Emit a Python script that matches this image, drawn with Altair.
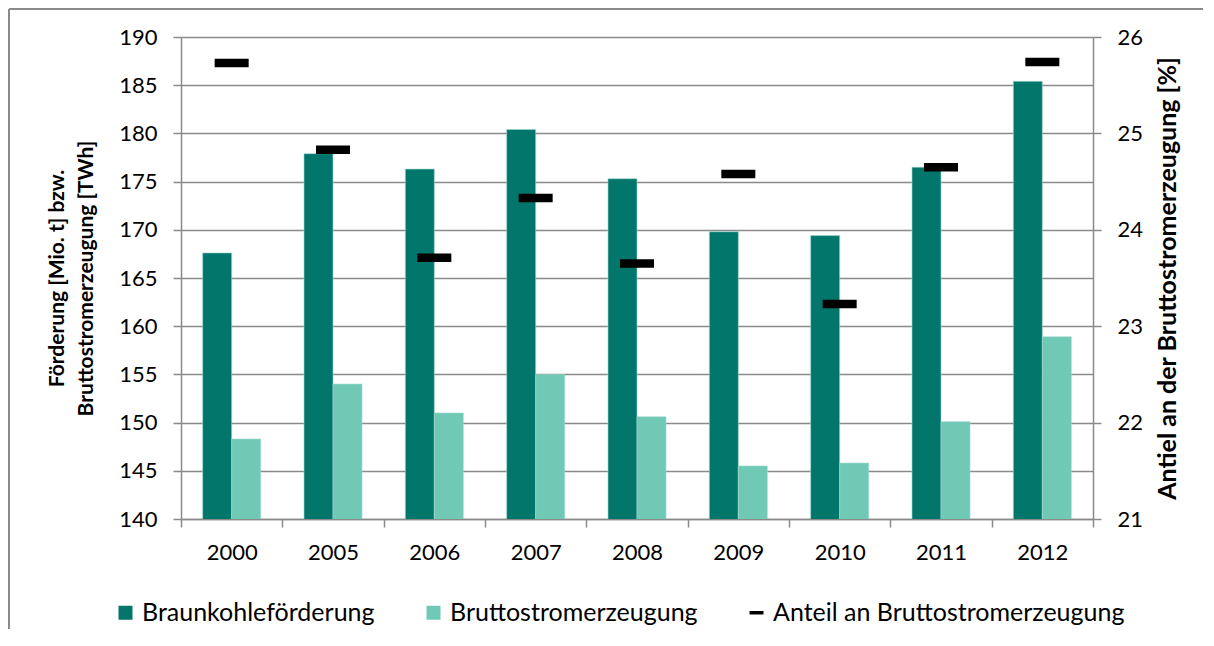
import altair as alt
import pandas as pd

years = ["2000", "2005", "2006", "2007", "2008", "2009", "2010", "2011", "2012"]
foerderung = [167.6, 177.9, 176.3, 180.4, 175.3, 169.8, 169.4, 176.5, 185.4]
strom = [148.3, 154.0, 151.0, 155.0, 150.6, 145.5, 145.8, 150.1, 158.9]
anteil = [25.73, 24.83, 23.71, 24.33, 23.65, 24.58, 23.23, 24.65, 25.74]

s1 = "Braunkohleförderung"
s2 = "Bruttostromerzeugung"
s3 = "Anteil an Bruttostromerzeugung"
series_names = [s1, s2, s3]
series_colors = ["#03766c", "#70c9b5", "#000000"]
marker_path = "M-1,-0.25H1V0.25H-1Z"
series_shapes = ["square", "square", marker_path]

bars_df = pd.DataFrame(
    {"year": years * 2, "series": [s1] * len(years) + [s2] * len(years), "value": foerderung + strom}
)
share_df = pd.DataFrame({"year": years, "series": [s3] * len(years), "value": anteil})

FONT = "Lato"
GRID = "#8a8a8a"

color_scale = alt.Scale(domain=series_names, range=series_colors)
shape_scale = alt.Scale(domain=series_names, range=series_shapes)

legend = alt.Legend(
    title=None,
    orient="none",
    direction="horizontal",
    legendX=-68,
    legendY=563,
    columnPadding=46,
    symbolSize=196,
    symbolOffset=0,
    labelOffset=4,
    labelFontSize=25,
    labelFont=FONT,
    labelColor="#000000",
    labelLimit=0,
    symbolStrokeWidth=0,
    padding=0,
)

x_enc = alt.X(
    "year:N",
    sort=years,
    scale=alt.Scale(paddingInner=0, paddingOuter=0),
    axis=alt.Axis(
        title=None,
        labelAngle=0,
        tickBand="extent",
        domainColor=GRID,
        tickColor=GRID,
        tickSize=8,
        tickWidth=1.5,
        domainWidth=1.5,
        labelPadding=15,
        labelFontSize=22,
        labelFont=FONT,
        labelColor="#000000",
        grid=False,
    ),
)

bars = alt.Chart(bars_df).mark_bar(clip=True, stroke="#9fd8cc", strokeWidth=0.6).encode(
    x=x_enc,
    xOffset=alt.XOffset("series:N", sort=[s1, s2], scale=alt.Scale(paddingInner=0, paddingOuter=0.747)),
    y=alt.Y(
        "value:Q",
        scale=alt.Scale(domain=[140, 190], zero=False, nice=False),
        axis=alt.Axis(
            orient="left",
            values=list(range(140, 191, 5)),
            title=["Förderung [Mio. t] bzw.", "Bruttostromerzeugung [TWh]"],
            titleFont=FONT,
            titleFontSize=21,
            titleFontWeight="bold",
            titleColor="#000000",
            titleLineHeight=29,
            titlePadding=22,
            labelFont=FONT,
            labelFontSize=22,
            labelColor="#000000",
            labelPadding=16,
            tickSize=8,
            tickColor=GRID,
            tickWidth=1.5,
            domainColor=GRID,
            domainWidth=1.5,
            grid=True,
            gridColor=GRID,
            gridWidth=1.5,
        ),
    ),
    color=alt.Color("series:N", scale=color_scale, legend=legend),
)

points = alt.Chart(share_df).mark_point(filled=True, size=1156, opacity=1, strokeWidth=0).encode(
    x=alt.X("year:N", sort=years),
    y=alt.Y(
        "value:Q",
        scale=alt.Scale(domain=[21, 26], zero=False, nice=False),
        axis=alt.Axis(
            orient="right",
            values=[21, 22, 23, 24, 25, 26],
            title="Antiel an der Bruttostromerzeugung [%]",
            titleAngle=270,
            titleFont=FONT,
            titleFontSize=25,
            titleFontWeight="bold",
            titleColor="#000000",
            titlePadding=38,
            labelFont=FONT,
            labelFontSize=22,
            labelColor="#000000",
            labelPadding=16,
            tickSize=8,
            tickColor=GRID,
            tickWidth=1.5,
            domainColor=GRID,
            domainWidth=1.5,
            grid=False,
        ),
    ),
    color=alt.Color("series:N", scale=color_scale, legend=legend),
    shape=alt.Shape("series:N", scale=shape_scale, legend=legend),
)

frame_v = alt.Chart(share_df).mark_rule(color="#8a8a8a", strokeWidth=1.5).encode(
    x=alt.value(-172), y=alt.value(-28), y2=alt.value(700)
)
frame_h = alt.Chart(share_df).mark_rule(color="#8a8a8a", strokeWidth=1.5).encode(
    x=alt.value(-172), x2=alt.value(1200), y=alt.value(-28)
)

chart = (
    alt.layer(frame_v, frame_h, bars, points)
    .resolve_scale(y="independent")
    .properties(
        width=912,
        height=482,
        autosize=alt.AutoSizeParams(type="none"),
        padding={"left": 173, "top": 29, "right": 110, "bottom": 110},
    )
    .configure_view(stroke=None)
)

chart.save("out.html", embed_options={"renderer": "svg", "actions": False})
